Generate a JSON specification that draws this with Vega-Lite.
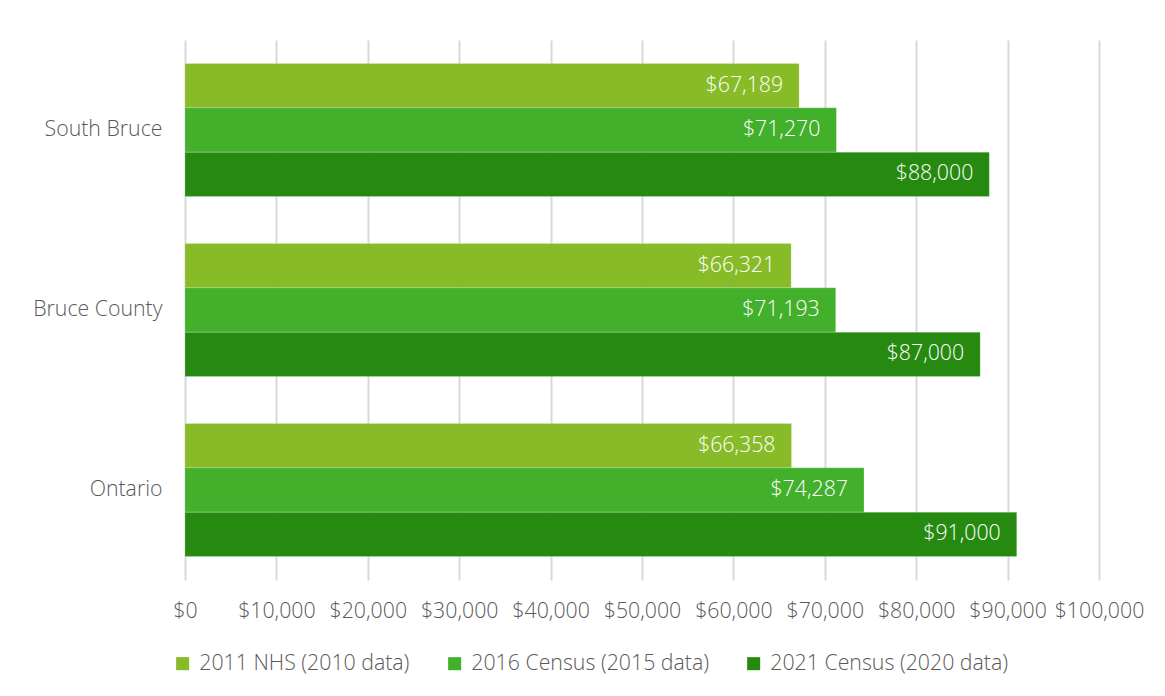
{
  "$schema": "https://vega.github.io/schema/vega-lite/v6.json",
  "autosize": {"type": "none"},
  "width": 914,
  "height": 540,
  "padding": {"left": 185, "top": 40, "right": 66, "bottom": 116},
  "background": "white",
  "config": {
    "font": "Open Sans",
    "view": {"stroke": null}
  },
  "data": {
    "values": [
      {"region": "South Bruce", "series": "2011 NHS (2010 data)", "value": 67189},
      {"region": "South Bruce", "series": "2016 Census (2015 data)", "value": 71270},
      {"region": "South Bruce", "series": "2021 Census (2020 data)", "value": 88000},
      {"region": "Bruce County", "series": "2011 NHS (2010 data)", "value": 66321},
      {"region": "Bruce County", "series": "2016 Census (2015 data)", "value": 71193},
      {"region": "Bruce County", "series": "2021 Census (2020 data)", "value": 87000},
      {"region": "Ontario", "series": "2011 NHS (2010 data)", "value": 66358},
      {"region": "Ontario", "series": "2016 Census (2015 data)", "value": 74287},
      {"region": "Ontario", "series": "2021 Census (2020 data)", "value": 91000}
    ]
  },
  "encoding": {
    "y": {
      "field": "region", "type": "nominal",
      "sort": ["South Bruce", "Bruce County", "Ontario"],
      "scale": {"paddingInner": 0.26, "paddingOuter": 0.13},
      "axis": {"title": null, "domain": false, "ticks": false, "labelPadding": 23,
        "labelFont": "Open Sans", "labelFontSize": 21.3, "labelFontWeight": 300, "labelColor": "#595959"}
    },
    "yOffset": {
      "field": "series", "type": "nominal",
      "sort": ["2011 NHS (2010 data)", "2016 Census (2015 data)", "2021 Census (2020 data)"],
      "scale": {"paddingInner": 0, "paddingOuter": 0}
    },
    "x": {
      "field": "value", "type": "quantitative",
      "scale": {"domain": [0, 100000], "nice": false},
      "axis": {
        "title": null, "domain": false, "ticks": false,
        "values": [0,10000,20000,30000,40000,50000,60000,70000,80000,90000,100000],
        "labelExpr": "'$' + format(datum.value, ',')",
        "labelOverlap": false, "labelFlush": false, "labelBound": false,
        "labelFont": "Open Sans", "labelFontSize": 21.3, "labelFontWeight": 300, "labelColor": "#595959",
        "gridColor": "#d9d9d9", "gridWidth": 2, "labelPadding": 20
      }
    }
  },
  "layer": [
    {
      "mark": {"type": "bar", "stroke": "white", "strokeWidth": 0.5, "strokeOpacity": 0.4},
      "encoding": {
        "color": {
          "field": "series", "type": "nominal",
          "sort": ["2011 NHS (2010 data)", "2016 Census (2015 data)", "2021 Census (2020 data)"],
          "scale": {
            "domain": ["2011 NHS (2010 data)", "2016 Census (2015 data)", "2021 Census (2020 data)"],
            "range": ["#88bb28", "#43b02c", "#278a10"]
          },
          "legend": {
            "title": null, "orient": "none", "legendX": -13, "legendY": 613, "direction": "horizontal",
            "symbolType": "square", "symbolSize": 170, "symbolStrokeWidth": 0,
            "labelFont": "Open Sans", "labelFontSize": 21.3, "labelFontWeight": 300, "labelColor": "#595959",
            "labelLimit": 0, "columnPadding": 34, "labelOffset": 6
          }
        }
      }
    },
    {
      "mark": {"type": "text", "align": "right", "baseline": "middle", "dx": -16, "color": "white", "fontSize": 21.3, "fontWeight": 300, "font": "Open Sans"},
      "encoding": {
        "text": {"field": "value", "type": "quantitative", "format": "$,.0f"}
      }
    }
  ]
}
